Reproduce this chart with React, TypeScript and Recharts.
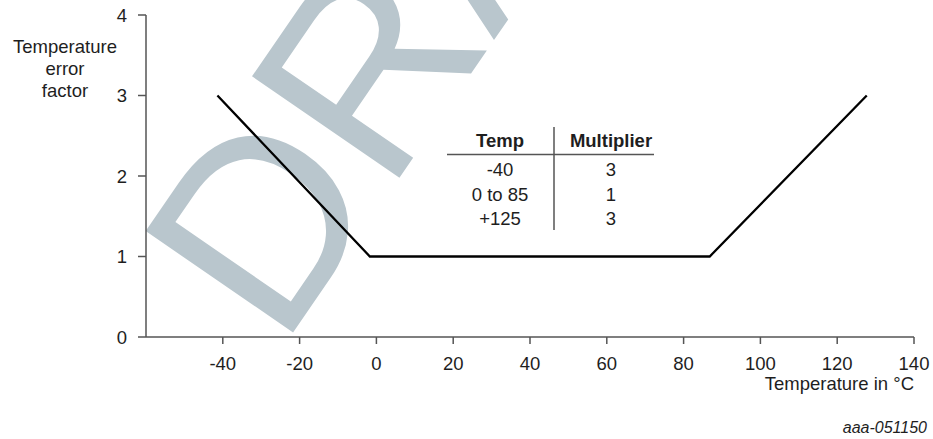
import React from "react";
import { CartesianGrid, Line, LineChart, XAxis, YAxis } from "recharts";

// Values (temperature in °C -> error factor)
const tempC = [-41.4, -1.7, 86.8, 127.7];
const errorFactor = [3, 1, 1, 3];
const xTicks = [-40, -20, 0, 20, 40, 60, 80, 100, 120, 140];
const yTicks = [0, 1, 2, 3, 4];
const tableTemps = ["-40", "0 to 85", "+125"];
const tableMultipliers = ["3", "1", "3"];
const yTitleLines = ["Temperature", "error", "factor"];

const data = tempC.map((t, i) => ({ temp: t, factor: errorFactor[i] }));

const FONT = "'Liberation Sans', Arial, Helvetica, sans-serif";
const INK = "#1e1e1e";
const AXIS = "#555";

// Everything that sits behind the plotted line: watermark, titles, small table.
function Backdrop() {
  const rowY = [176, 200.5, 224.5];
  return (
    <svg
      width={933}
      height={439}
      style={{ position: "absolute", left: 0, top: 0 }}
      fontFamily={FONT}
    >
      <text
        x={281}
        y={350}
        fontSize={260}
        fill="#B9C6CD"
        transform="rotate(-55.5 281 350)"
      >
        DRAFT
      </text>

      {yTitleLines.map((s, i) => (
        <text key={s} x={65} y={53 + i * 22} textAnchor="middle" fontSize={18.5} fill={INK}>
          {s}
        </text>
      ))}
      <text x={914} y={389.5} textAnchor="end" fontSize={18.5} fill={INK}>
        Temperature in °C
      </text>
      <text x={927} y={432.5} textAnchor="end" fontSize={16} fontStyle="italic" fill={INK}>
        aaa-051150
      </text>

      <g fontSize={18.5} fill={INK} textAnchor="middle">
        <text x={500} y={146.5} fontWeight="bold">Temp</text>
        <text x={611} y={146.5} fontWeight="bold">Multiplier</text>
        {tableTemps.map((t, i) => (
          <text key={t} x={500} y={rowY[i]}>{t}</text>
        ))}
        {tableMultipliers.map((m, i) => (
          <text key={i} x={611} y={rowY[i]}>{m}</text>
        ))}
      </g>
      <line x1={447} x2={654} y1={154.5} y2={154.5} stroke={AXIS} strokeWidth={1.5} />
      <line x1={554} x2={554} y1={127} y2={230} stroke={AXIS} strokeWidth={1.5} />
    </svg>
  );
}

export default function App() {
  return (
    <div style={{ position: "absolute", left: 0, top: 0, width: 933, height: 439, background: "#fff" }}>
      <Backdrop />
      <div style={{ position: "absolute", left: 0, top: 0 }}>
        <LineChart
          width={933}
          height={439}
          data={data}
          margin={{ top: 15, right: 19, bottom: 72, left: 86 }}
        >
          <CartesianGrid stroke="none" />
          <XAxis
            type="number"
            dataKey="temp"
            domain={[-60, 140]}
            ticks={xTicks}
            allowDataOverflow
            height={30}
            axisLine={{ stroke: AXIS, strokeWidth: 1.5 }}
            tickLine={{ stroke: AXIS, strokeWidth: 1.5 }}
            tickSize={7}
            tickMargin={13}
            tick={{ fill: INK, fontSize: 18.5, fontFamily: FONT }}
          />
          <YAxis
            type="number"
            domain={[0, 4]}
            ticks={yTicks}
            width={60}
            axisLine={{ stroke: AXIS, strokeWidth: 1.5 }}
            tickLine={{ stroke: AXIS, strokeWidth: 1.5 }}
            tickSize={8}
            tickMargin={11}
            tick={{ fill: INK, fontSize: 18.5, fontFamily: FONT }}
          />
          <Line
            type="linear"
            dataKey="factor"
            stroke="#000"
            strokeWidth={2.3}
            dot={false}
            activeDot={false}
            isAnimationActive={false}
          />
        </LineChart>
      </div>
    </div>
  );
}
